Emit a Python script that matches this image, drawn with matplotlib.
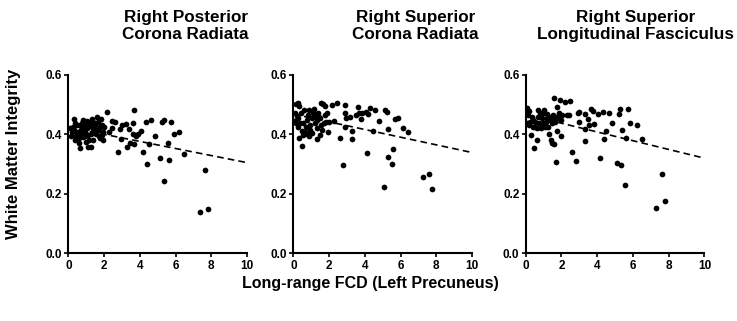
import numpy as np
import matplotlib.pyplot as plt

plt.rcParams['font.family'] = ['Liberation Sans', 'DejaVu Sans']
plt.rcParams['font.weight'] = 'bold'

# Long-range FCD (Left Precuneus) vs. white matter integrity, three tracts
titoli = ['Right Posterior\nCorona Radiata',
          'Right Superior\nCorona Radiata',
          'Right Superior\nLongitudinal Fasciculus']

# pannello 1 - Right Posterior Corona Radiata
fcd_1 = [0.09, 0.13, 0.32, 0.32, 0.37, 0.47, 0.50, 0.58, 0.65, 0.69, 0.75, 0.80, 0.84, 0.93,
         0.99, 1.03, 1.07, 1.12, 1.21, 1.25, 1.31, 1.36, 1.40, 1.50, 1.55, 1.63, 1.68, 1.74,
         1.78, 1.81, 1.87, 1.93, 1.96, 2.00, 0.19, 0.24, 0.43, 0.62, 0.77, 0.88, 1.18, 1.46,
         1.70, 0.56, 1.12, 0.95, 1.59, 1.33, 0.39, 0.65, 0.88, 1.03, 1.25, 1.40, 1.78, 1.89,
         2.19, 2.28, 2.45, 2.47, 2.60, 2.77, 2.90, 2.95, 3.03, 3.23, 3.29, 3.40, 3.46, 3.64,
         3.64, 3.68, 3.70, 3.78, 3.89, 4.06, 4.20, 4.34, 4.39, 4.52, 4.64, 4.86, 5.12, 5.23,
         5.33, 5.33, 5.55, 5.64, 5.74, 5.89, 6.22, 6.45, 7.35, 7.64, 7.81]
wmi_1 = [0.420, 0.395, 0.452, 0.415, 0.381, 0.432, 0.401, 0.370, 0.353, 0.415, 0.437, 0.449, 0.390, 0.409,
         0.376, 0.432, 0.420, 0.398, 0.440, 0.357, 0.451, 0.413, 0.381, 0.432, 0.401, 0.460, 0.443, 0.415,
         0.387, 0.451, 0.432, 0.381, 0.409, 0.426, 0.409, 0.426, 0.393, 0.387, 0.398, 0.426, 0.381, 0.420,
         0.395, 0.409, 0.359, 0.393, 0.415, 0.424, 0.440, 0.432, 0.443, 0.446, 0.401, 0.443, 0.426, 0.398,
         0.474, 0.407, 0.445, 0.422, 0.441, 0.341, 0.419, 0.386, 0.433, 0.435, 0.358, 0.418, 0.370, 0.438,
         0.401, 0.367, 0.482, 0.396, 0.401, 0.412, 0.342, 0.441, 0.299, 0.367, 0.447, 0.393, 0.321, 0.442,
         0.447, 0.243, 0.370, 0.314, 0.441, 0.403, 0.409, 0.335, 0.138, 0.280, 0.150]

# pannello 2 - Right Superior Corona Radiata
fcd_2 = [0.15, 0.24, 0.33, 0.09, 0.19, 0.06, 0.15, 0.28, 0.37, 0.43, 0.33, 0.50, 0.56, 0.65,
         0.70, 0.74, 0.83, 0.89, 0.96, 1.02, 1.07, 1.11, 1.17, 1.24, 1.30, 1.35, 1.39, 1.48,
         1.54, 1.57, 1.67, 1.76, 1.81, 1.89, 1.94, 2.00, 1.63, 0.56, 0.78, 1.20, 1.44, 1.72,
         0.61, 0.93, 0.46, 0.28, 1.78, 0.89, 1.30, 1.52,
         2.19, 2.30, 2.46, 2.59, 2.78, 2.87, 2.89, 2.89, 2.96, 3.15, 3.28, 3.30, 3.48, 3.61,
         3.70, 3.76, 3.87, 4.06, 4.11, 4.17, 4.30, 4.44, 4.59, 4.81, 5.07, 5.15, 5.24, 5.30,
         5.31, 5.52, 5.59, 5.69, 5.83, 6.15, 6.44, 7.24, 7.59, 7.74]
wmi_2 = [0.502, 0.505, 0.497, 0.473, 0.462, 0.446, 0.437, 0.426, 0.440, 0.471, 0.389, 0.361, 0.398, 0.409,
         0.426, 0.449, 0.465, 0.482, 0.415, 0.404, 0.454, 0.471, 0.484, 0.437, 0.385, 0.449, 0.473, 0.398,
         0.432, 0.505, 0.501, 0.496, 0.443, 0.471, 0.407, 0.441, 0.415, 0.437, 0.401, 0.462, 0.458, 0.437,
         0.482, 0.432, 0.413, 0.454, 0.465, 0.393, 0.420, 0.454,
         0.498, 0.445, 0.505, 0.387, 0.298, 0.471, 0.499, 0.426, 0.454, 0.458, 0.412, 0.385, 0.465, 0.493,
         0.473, 0.451, 0.471, 0.477, 0.339, 0.468, 0.488, 0.413, 0.481, 0.446, 0.222, 0.482, 0.477, 0.324,
         0.419, 0.301, 0.352, 0.451, 0.454, 0.423, 0.408, 0.256, 0.266, 0.216]

# pannello 3 - Right Superior Longitudinal Fasciculus
fcd_3 = [0.09, 0.21, 0.15, 0.06, 0.21, 0.30, 0.39, 0.45, 0.52, 0.62, 0.71, 0.76, 0.84, 0.90,
         0.99, 1.04, 1.08, 1.14, 1.21, 1.27, 1.31, 1.36, 1.42, 1.49, 1.51, 1.59, 1.60, 1.64,
         1.68, 1.74, 1.77, 1.83, 1.92, 1.98, 1.96, 0.62, 0.43, 0.71, 0.34, 0.95, 1.18, 1.46,
         0.80, 0.24, 1.70, 0.54, 1.03, 1.32, 1.55, 1.87, 2.01,
         2.20, 2.30, 2.45, 2.48, 2.61, 2.80, 2.91, 3.00, 3.00, 3.32, 3.32, 3.34, 3.47, 3.56,
         3.66, 3.75, 3.84, 4.03, 4.16, 4.31, 4.38, 4.51, 4.64, 4.85, 5.11, 5.22, 5.28, 5.35,
         5.37, 5.56, 5.62, 5.71, 5.86, 6.21, 6.49, 7.31, 7.63, 7.82]
wmi_3 = [0.488, 0.480, 0.465, 0.437, 0.432, 0.399, 0.449, 0.354, 0.426, 0.381, 0.482, 0.437, 0.421, 0.454,
         0.471, 0.482, 0.426, 0.443, 0.469, 0.426, 0.401, 0.449, 0.381, 0.372, 0.465, 0.367, 0.522, 0.443,
         0.306, 0.413, 0.493, 0.454, 0.515, 0.394, 0.449, 0.421, 0.426, 0.460, 0.460, 0.437, 0.454, 0.437,
         0.471, 0.443, 0.460, 0.443, 0.432, 0.460, 0.454, 0.471, 0.465,
         0.508, 0.465, 0.465, 0.514, 0.340, 0.312, 0.471, 0.477, 0.442, 0.469, 0.418, 0.378, 0.451, 0.432,
         0.485, 0.480, 0.436, 0.469, 0.321, 0.477, 0.384, 0.412, 0.471, 0.440, 0.304, 0.469, 0.485, 0.297,
         0.416, 0.230, 0.389, 0.485, 0.440, 0.431, 0.386, 0.152, 0.266, 0.176]

# rette di regressione (intercetta, pendenza)
intercette = [0.424, 0.468, 0.467]
pendenze = [-0.0119, -0.0129, -0.0147]

dati_x = [fcd_1, fcd_2, fcd_3]
dati_y = [wmi_1, wmi_2, wmi_3]

fig = plt.figure(figsize=(7.37, 3.21), dpi=100)
sinistre = [0.0927, 0.398, 0.7133]
centri_titolo = [0.252, 0.564, 0.862]

for i in range(3):
    ax = fig.add_axes([sinistre[i], 0.211, 0.2425, 0.5555])
    ax.scatter(dati_x[i], dati_y[i], s=17, color='black', linewidths=0, zorder=3)
    xr = np.array([0, 10])
    ax.plot(xr, intercette[i] + pendenze[i] * xr, color='black', lw=1.2,
            dashes=(4, 2.5), zorder=2)
    ax.set_xlim(0, 10)
    ax.set_ylim(0, 0.6)
    ax.set_xticks([0, 2, 4, 6, 8, 10])
    ax.set_yticks([0.0, 0.2, 0.4, 0.6])
    ax.set_yticklabels(['0.0', '0.2', '0.4', '0.6'])
    for s in ['top', 'right']:
        ax.spines[s].set_visible(False)
    for s in ['left', 'bottom']:
        ax.spines[s].set_linewidth(1.5)
    ax.tick_params(direction='out', length=3, width=1.2, labelsize=8.5, pad=1.5)
    for lab in ax.get_xticklabels() + ax.get_yticklabels():
        lab.set_fontweight('bold')
    fig.text(centri_titolo[i], 0.918, titoli[i], ha='center', va='center',
             fontsize=12.3, fontweight='bold', linespacing=1.15)

fig.text(0.018, 0.52, 'White Matter Integrity', rotation=90, ha='center', va='center',
         fontsize=12, fontweight='bold')
fig.text(0.502, 0.118, 'Long-range FCD (Left Precuneus)', ha='center', va='center',
         fontsize=11.5, fontweight='bold')

plt.savefig('out.png', dpi=100)
